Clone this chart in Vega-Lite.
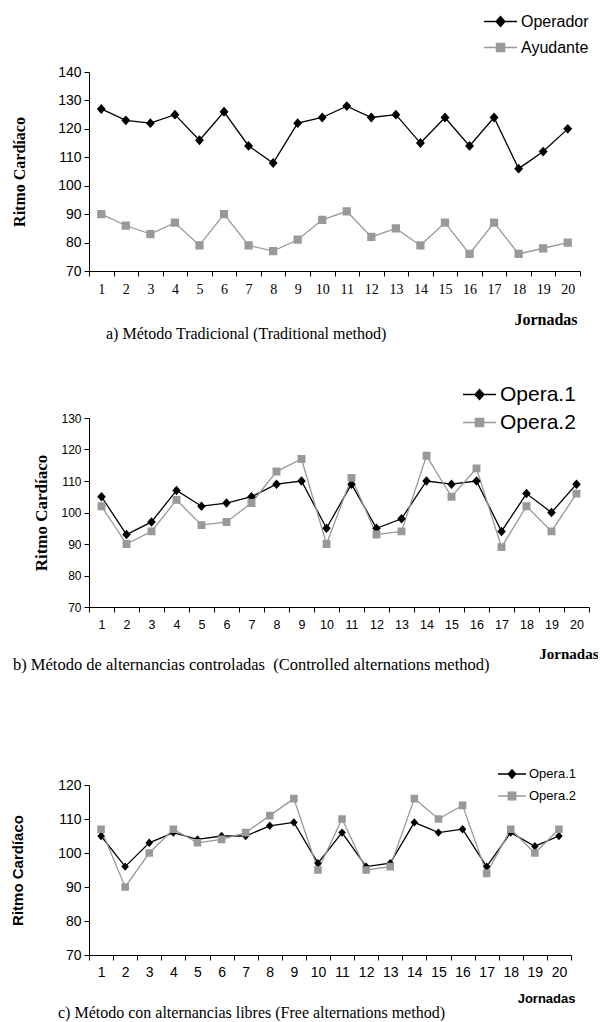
{
  "$schema": "https://vega.github.io/schema/vega-lite/v6.json",
  "autosize": {"type": "pad"},
  "padding": {"top": 4, "left": 10, "right": 0, "bottom": 0},
  "background": "white",
  "datasets": {
    "a": [
      {"jornada": 1, "serie": "Operador", "ritmo": 127}, {"jornada": 2, "serie": "Operador", "ritmo": 123},
      {"jornada": 3, "serie": "Operador", "ritmo": 122}, {"jornada": 4, "serie": "Operador", "ritmo": 125},
      {"jornada": 5, "serie": "Operador", "ritmo": 116}, {"jornada": 6, "serie": "Operador", "ritmo": 126},
      {"jornada": 7, "serie": "Operador", "ritmo": 114}, {"jornada": 8, "serie": "Operador", "ritmo": 108},
      {"jornada": 9, "serie": "Operador", "ritmo": 122}, {"jornada": 10, "serie": "Operador", "ritmo": 124},
      {"jornada": 11, "serie": "Operador", "ritmo": 128}, {"jornada": 12, "serie": "Operador", "ritmo": 124},
      {"jornada": 13, "serie": "Operador", "ritmo": 125}, {"jornada": 14, "serie": "Operador", "ritmo": 115},
      {"jornada": 15, "serie": "Operador", "ritmo": 124}, {"jornada": 16, "serie": "Operador", "ritmo": 114},
      {"jornada": 17, "serie": "Operador", "ritmo": 124}, {"jornada": 18, "serie": "Operador", "ritmo": 106},
      {"jornada": 19, "serie": "Operador", "ritmo": 112}, {"jornada": 20, "serie": "Operador", "ritmo": 120},
      {"jornada": 1, "serie": "Ayudante", "ritmo": 90}, {"jornada": 2, "serie": "Ayudante", "ritmo": 86},
      {"jornada": 3, "serie": "Ayudante", "ritmo": 83}, {"jornada": 4, "serie": "Ayudante", "ritmo": 87},
      {"jornada": 5, "serie": "Ayudante", "ritmo": 79}, {"jornada": 6, "serie": "Ayudante", "ritmo": 90},
      {"jornada": 7, "serie": "Ayudante", "ritmo": 79}, {"jornada": 8, "serie": "Ayudante", "ritmo": 77},
      {"jornada": 9, "serie": "Ayudante", "ritmo": 81}, {"jornada": 10, "serie": "Ayudante", "ritmo": 88},
      {"jornada": 11, "serie": "Ayudante", "ritmo": 91}, {"jornada": 12, "serie": "Ayudante", "ritmo": 82},
      {"jornada": 13, "serie": "Ayudante", "ritmo": 85}, {"jornada": 14, "serie": "Ayudante", "ritmo": 79},
      {"jornada": 15, "serie": "Ayudante", "ritmo": 87}, {"jornada": 16, "serie": "Ayudante", "ritmo": 76},
      {"jornada": 17, "serie": "Ayudante", "ritmo": 87}, {"jornada": 18, "serie": "Ayudante", "ritmo": 76},
      {"jornada": 19, "serie": "Ayudante", "ritmo": 78}, {"jornada": 20, "serie": "Ayudante", "ritmo": 80}
    ],
    "b": [
      {"jornada": 1, "serie": "Opera.1", "ritmo": 105}, {"jornada": 2, "serie": "Opera.1", "ritmo": 93},
      {"jornada": 3, "serie": "Opera.1", "ritmo": 97}, {"jornada": 4, "serie": "Opera.1", "ritmo": 107},
      {"jornada": 5, "serie": "Opera.1", "ritmo": 102}, {"jornada": 6, "serie": "Opera.1", "ritmo": 103},
      {"jornada": 7, "serie": "Opera.1", "ritmo": 105}, {"jornada": 8, "serie": "Opera.1", "ritmo": 109},
      {"jornada": 9, "serie": "Opera.1", "ritmo": 110}, {"jornada": 10, "serie": "Opera.1", "ritmo": 95},
      {"jornada": 11, "serie": "Opera.1", "ritmo": 109}, {"jornada": 12, "serie": "Opera.1", "ritmo": 95},
      {"jornada": 13, "serie": "Opera.1", "ritmo": 98}, {"jornada": 14, "serie": "Opera.1", "ritmo": 110},
      {"jornada": 15, "serie": "Opera.1", "ritmo": 109}, {"jornada": 16, "serie": "Opera.1", "ritmo": 110},
      {"jornada": 17, "serie": "Opera.1", "ritmo": 94}, {"jornada": 18, "serie": "Opera.1", "ritmo": 106},
      {"jornada": 19, "serie": "Opera.1", "ritmo": 100}, {"jornada": 20, "serie": "Opera.1", "ritmo": 109},
      {"jornada": 1, "serie": "Opera.2", "ritmo": 102}, {"jornada": 2, "serie": "Opera.2", "ritmo": 90},
      {"jornada": 3, "serie": "Opera.2", "ritmo": 94}, {"jornada": 4, "serie": "Opera.2", "ritmo": 104},
      {"jornada": 5, "serie": "Opera.2", "ritmo": 96}, {"jornada": 6, "serie": "Opera.2", "ritmo": 97},
      {"jornada": 7, "serie": "Opera.2", "ritmo": 103}, {"jornada": 8, "serie": "Opera.2", "ritmo": 113},
      {"jornada": 9, "serie": "Opera.2", "ritmo": 117}, {"jornada": 10, "serie": "Opera.2", "ritmo": 90},
      {"jornada": 11, "serie": "Opera.2", "ritmo": 111}, {"jornada": 12, "serie": "Opera.2", "ritmo": 93},
      {"jornada": 13, "serie": "Opera.2", "ritmo": 94}, {"jornada": 14, "serie": "Opera.2", "ritmo": 118},
      {"jornada": 15, "serie": "Opera.2", "ritmo": 105}, {"jornada": 16, "serie": "Opera.2", "ritmo": 114},
      {"jornada": 17, "serie": "Opera.2", "ritmo": 89}, {"jornada": 18, "serie": "Opera.2", "ritmo": 102},
      {"jornada": 19, "serie": "Opera.2", "ritmo": 94}, {"jornada": 20, "serie": "Opera.2", "ritmo": 106}
    ],
    "c": [
      {"jornada": 1, "serie": "Opera.1", "ritmo": 105}, {"jornada": 2, "serie": "Opera.1", "ritmo": 96},
      {"jornada": 3, "serie": "Opera.1", "ritmo": 103}, {"jornada": 4, "serie": "Opera.1", "ritmo": 106},
      {"jornada": 5, "serie": "Opera.1", "ritmo": 104}, {"jornada": 6, "serie": "Opera.1", "ritmo": 105},
      {"jornada": 7, "serie": "Opera.1", "ritmo": 105}, {"jornada": 8, "serie": "Opera.1", "ritmo": 108},
      {"jornada": 9, "serie": "Opera.1", "ritmo": 109}, {"jornada": 10, "serie": "Opera.1", "ritmo": 97},
      {"jornada": 11, "serie": "Opera.1", "ritmo": 106}, {"jornada": 12, "serie": "Opera.1", "ritmo": 96},
      {"jornada": 13, "serie": "Opera.1", "ritmo": 97}, {"jornada": 14, "serie": "Opera.1", "ritmo": 109},
      {"jornada": 15, "serie": "Opera.1", "ritmo": 106}, {"jornada": 16, "serie": "Opera.1", "ritmo": 107},
      {"jornada": 17, "serie": "Opera.1", "ritmo": 96}, {"jornada": 18, "serie": "Opera.1", "ritmo": 106},
      {"jornada": 19, "serie": "Opera.1", "ritmo": 102}, {"jornada": 20, "serie": "Opera.1", "ritmo": 105},
      {"jornada": 1, "serie": "Opera.2", "ritmo": 107}, {"jornada": 2, "serie": "Opera.2", "ritmo": 90},
      {"jornada": 3, "serie": "Opera.2", "ritmo": 100}, {"jornada": 4, "serie": "Opera.2", "ritmo": 107},
      {"jornada": 5, "serie": "Opera.2", "ritmo": 103}, {"jornada": 6, "serie": "Opera.2", "ritmo": 104},
      {"jornada": 7, "serie": "Opera.2", "ritmo": 106}, {"jornada": 8, "serie": "Opera.2", "ritmo": 111},
      {"jornada": 9, "serie": "Opera.2", "ritmo": 116}, {"jornada": 10, "serie": "Opera.2", "ritmo": 95},
      {"jornada": 11, "serie": "Opera.2", "ritmo": 110}, {"jornada": 12, "serie": "Opera.2", "ritmo": 95},
      {"jornada": 13, "serie": "Opera.2", "ritmo": 96}, {"jornada": 14, "serie": "Opera.2", "ritmo": 116},
      {"jornada": 15, "serie": "Opera.2", "ritmo": 110}, {"jornada": 16, "serie": "Opera.2", "ritmo": 114},
      {"jornada": 17, "serie": "Opera.2", "ritmo": 94}, {"jornada": 18, "serie": "Opera.2", "ritmo": 107},
      {"jornada": 19, "serie": "Opera.2", "ritmo": 100}, {"jornada": 20, "serie": "Opera.2", "ritmo": 107}
    ]
  },
  "bounds": "flush",
  "spacing": 147,
  "resolve": {"scale": {"color": "independent", "shape": "independent", "x": "independent", "y": "independent"}, "legend": {"color": "independent", "shape": "independent"}},
  "vconcat": [
    {
      "width": 491,
      "height": 199,
      "data": {"name": "a"},
      "title": {"text": "a) Método Tradicional (Traditional method)", "orient": "bottom", "anchor": "start", "frame": "group", "font": "Liberation Serif", "fontSize": 16, "fontWeight": "normal", "color": "#000000", "dx": 17, "offset": -1},
      "encoding": {
        "x": {"field": "jornada", "type": "ordinal", "bandPosition": 0.5,
          "scale": {"type": "band", "paddingInner": 0, "paddingOuter": 0},
          "axis": {"labelAngle": 0, "labelFont": "Liberation Serif", "labelFontSize": 14, "tickSize": 5, "tickBand": "extent", "labelPadding": 6,
            "title": "Jornadas", "titleFont": "Liberation Serif", "titleFontSize": 16, "titleFontWeight": "bold", "titleAlign": "right", "titleAnchor": "end", "titleX": 488, "titleY": 48, "titleBaseline": "middle"}},
        "y": {"field": "ritmo", "type": "quantitative",
          "scale": {"domain": [70, 140], "nice": false, "zero": false},
          "axis": {"values": [70, 80, 90, 100, 110, 120, 130, 140], "labelFont": "Liberation Sans", "labelFontSize": 14, "tickSize": 5, "labelPadding": 3,
            "title": "Ritmo Cardíaco", "titleFont": "Liberation Serif", "titleFontSize": 16, "titleFontWeight": "bold", "titlePadding": 30}},
        "color": {"field": "serie", "type": "nominal",
          "scale": {"domain": ["Operador", "Ayudante"], "range": ["#000000", "#999999"]},
          "legend": {"orient": "none", "legendX": 394, "legendY": -68, "title": null, "padding": 0,
            "labelFont": "Liberation Sans", "labelFontSize": 16, "labelColor": "#000000", "symbolSize": 1089, "symbolStrokeWidth": 1.3, "rowPadding": -10, "labelOffset": 3}}
      },
      "layer": [
        {"mark": {"type": "line", "strokeWidth": 1.3}},
        {"mark": {"type": "point", "filled": true, "opacity": 1, "size": 1089},
          "encoding": {"shape": {"field": "serie", "type": "nominal",
            "scale": {"domain": ["Operador", "Ayudante"], "range": ["M-1,0H1M0,-0.3L0.27,0L0,0.3L-0.27,0Z", "M-1,0H1M-0.25,-0.25H0.25V0.25H-0.25Z"]},
            "legend": {"orient": "none", "legendX": 394, "legendY": -68, "title": null, "padding": 0,
              "labelFont": "Liberation Sans", "labelFontSize": 16, "labelColor": "#000000", "symbolSize": 1089, "symbolStrokeWidth": 1.3, "rowPadding": -10, "labelOffset": 3}}}}
      ]
    },
    {
      "bounds": "flush",
      "spacing": 178,
      "resolve": {"scale": {"color": "independent", "shape": "independent", "x": "independent", "y": "independent"}, "legend": {"color": "independent", "shape": "independent"}},
      "vconcat": [
        {
          "width": 500,
          "height": 189,
          "data": {"name": "b"},
          "title": {"text": "b) Método de alternancias controladas\u00a0 (Controlled alternations method)", "orient": "bottom", "anchor": "start", "frame": "group", "font": "Liberation Serif", "fontSize": 16.5, "fontWeight": "normal", "color": "#000000", "dx": -76, "offset": -4},
          "encoding": {
            "x": {"field": "jornada", "type": "ordinal", "bandPosition": 0.5,
              "scale": {"type": "band", "paddingInner": 0, "paddingOuter": 0},
              "axis": {"labelAngle": 0, "labelFont": "Liberation Sans", "labelFontSize": 12.5, "tickSize": 5, "tickBand": "extent", "labelPadding": 6,
                "title": "Jornadas", "titleFont": "Liberation Serif", "titleFontSize": 15, "titleFontWeight": "bold", "titleAlign": "right", "titleAnchor": "end", "titleX": 509, "titleY": 46, "titleBaseline": "middle"}},
            "y": {"field": "ritmo", "type": "quantitative",
              "scale": {"domain": [70, 130], "nice": false, "zero": false},
              "axis": {"values": [70, 80, 90, 100, 110, 120, 130], "labelFont": "Liberation Sans", "labelFontSize": 12, "tickSize": 5, "labelPadding": 3,
                "title": "Ritmo Cardíaco", "titleFont": "Liberation Serif", "titleFontSize": 17, "titleFontWeight": "bold", "titlePadding": 10}},
            "color": {"field": "serie", "type": "nominal",
              "scale": {"domain": ["Opera.1", "Opera.2"], "range": ["#000000", "#999999"]},
              "legend": {"orient": "none", "legendX": 373, "legendY": -41, "title": null, "padding": 0,
                "labelFont": "Liberation Sans", "labelFontSize": 21, "labelColor": "#000000", "symbolSize": 1089, "symbolStrokeWidth": 1.3, "rowPadding": -5, "labelOffset": 3}}
          },
          "layer": [
            {"mark": {"type": "line", "strokeWidth": 1.3}},
            {"mark": {"type": "point", "filled": true, "opacity": 1, "size": 1000},
              "encoding": {"shape": {"field": "serie", "type": "nominal",
                "scale": {"domain": ["Opera.1", "Opera.2"], "range": ["M-1,0H1M0,-0.3L0.27,0L0,0.3L-0.27,0Z", "M-1,0H1M-0.25,-0.25H0.25V0.25H-0.25Z"]},
                "legend": {"orient": "none", "legendX": 373, "legendY": -41, "title": null, "padding": 0,
                  "labelFont": "Liberation Sans", "labelFontSize": 21, "labelColor": "#000000", "symbolSize": 1089, "symbolStrokeWidth": 1.3, "rowPadding": -5, "labelOffset": 3}}}}
          ]
        },
        {
          "width": 482,
          "height": 170,
          "data": {"name": "c"},
          "title": {"text": "c) Método con alternancias libres (Free alternations method)", "orient": "bottom", "anchor": "start", "frame": "group", "font": "Liberation Serif", "fontSize": 16, "fontWeight": "normal", "color": "#000000", "dx": -31, "offset": 0},
          "encoding": {
            "x": {"field": "jornada", "type": "ordinal", "bandPosition": 0.5,
              "scale": {"type": "band", "paddingInner": 0, "paddingOuter": 0},
              "axis": {"labelAngle": 0, "labelFont": "Liberation Sans", "labelFontSize": 14, "tickSize": 5, "tickBand": "extent", "labelPadding": 5,
                "title": "Jornadas", "titleFont": "Liberation Sans", "titleFontSize": 13, "titleFontWeight": "bold", "titleAlign": "right", "titleAnchor": "end", "titleX": 486, "titleY": 43, "titleBaseline": "middle"}},
            "y": {"field": "ritmo", "type": "quantitative",
              "scale": {"domain": [70, 120], "nice": false, "zero": false},
              "axis": {"values": [70, 80, 90, 100, 110, 120], "labelFont": "Liberation Sans", "labelFontSize": 14, "tickSize": 5, "labelPadding": 3,
                "title": "Ritmo Cardíaco", "titleFont": "Liberation Sans", "titleFontSize": 15, "titleFontWeight": "bold", "titlePadding": 32}},
            "color": {"field": "serie", "type": "nominal",
              "scale": {"domain": ["Opera.1", "Opera.2"], "range": ["#000000", "#999999"]},
              "legend": {"orient": "none", "legendX": 408, "legendY": -26, "title": null, "padding": 0,
                "labelFont": "Liberation Sans", "labelFontSize": 13, "labelColor": "#000000", "symbolSize": 784, "symbolStrokeWidth": 1.3, "rowPadding": -4, "labelOffset": 2}}
          },
          "layer": [
            {"mark": {"type": "line", "strokeWidth": 1.3}},
            {"mark": {"type": "point", "filled": true, "opacity": 1, "size": 784},
              "encoding": {"shape": {"field": "serie", "type": "nominal",
                "scale": {"domain": ["Opera.1", "Opera.2"], "range": ["M-1,0H1M0,-0.3L0.27,0L0,0.3L-0.27,0Z", "M-1,0H1M-0.27,-0.27H0.27V0.27H-0.27Z"]},
                "legend": {"orient": "none", "legendX": 408, "legendY": -26, "title": null, "padding": 0,
                  "labelFont": "Liberation Sans", "labelFontSize": 13, "labelColor": "#000000", "symbolSize": 784, "symbolStrokeWidth": 1.3, "rowPadding": -4, "labelOffset": 2}}}}
          ]
        }
      ]
    }
  ],
  "config": {
    "view": {"stroke": null},
    "axis": {"grid": false, "domainColor": "#000000", "tickColor": "#000000", "labelColor": "#000000", "titleColor": "#000000", "domainWidth": 1, "tickWidth": 1}
  }
}
